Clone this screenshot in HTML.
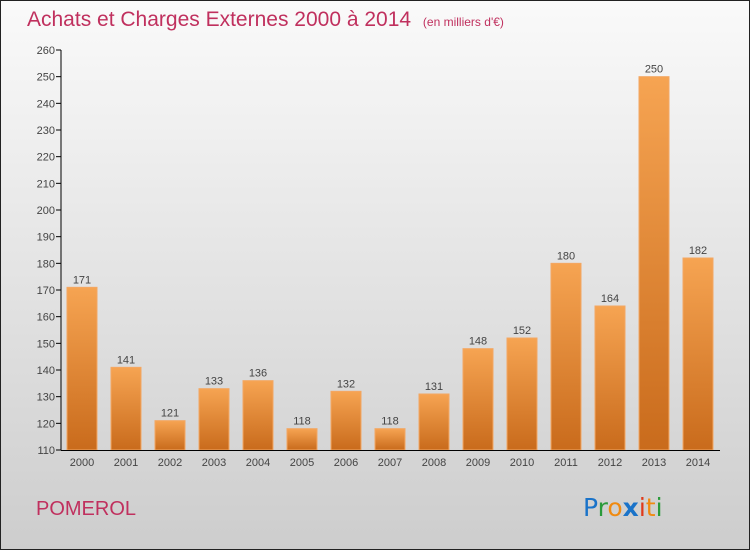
<!DOCTYPE html>
<html><head><meta charset="utf-8"><style>
body{margin:0}
#c{width:750px;height:550px;position:relative;overflow:hidden;font-family:"Liberation Sans",sans-serif}
</style></head><body>
<div id="c">
<svg id="s" width="750" height="550" xmlns="http://www.w3.org/2000/svg">
<defs>
<linearGradient id="bg" x1="0" y1="0" x2="0" y2="1"><stop offset="0" stop-color="#fafafa"/><stop offset="1" stop-color="#cdcdcd"/></linearGradient>
<linearGradient id="bar" x1="0" y1="0" x2="0" y2="1"><stop offset="0" stop-color="#f6a452"/><stop offset="1" stop-color="#c96b1c"/></linearGradient>
</defs>
<rect x="0.5" y="0.5" width="749" height="549" fill="url(#bg)" stroke="#222"/>
<text x="27" y="26" font-size="21" fill="#c0305e">Achats et Charges Externes 2000 à 2014 <tspan font-size="12" dx="6">(en milliers d'€)</tspan></text>
<text x="36" y="515" font-size="20" fill="#c0305e">POMEROL</text>
<g font-size="25" font-family="'DejaVu Sans',sans-serif">
<text x="583" y="516" fill="#1a73c9">P<tspan fill="#2a9a3a">r</tspan><tspan fill="#f08a10">o</tspan><tspan fill="#1a73c9" font-weight="bold">x</tspan><tspan fill="#e03a1a">i</tspan><tspan fill="#f08a10">t</tspan><tspan fill="#2a9a3a">i</tspan></text>
</g>
<g id="plot"></g>
</svg>
</div>
<script>
const years=["2000","2001","2002","2003","2004","2005","2006","2007","2008","2009","2010","2011","2012","2013","2014"];
const values=[171,141,121,133,136,118,132,118,131,148,152,180,164,250,182];
const ticks=[110,120,130,140,150,160,170,180,190,200,210,220,230,240,250,260];
const NS="http://www.w3.org/2000/svg";
const g=document.getElementById('plot');
const y=v=>450-(v-110)*400/150;
const x=i=>82+i*44;
function mk(t,a){const e=document.createElementNS(NS,t);for(const k in a)e.setAttribute(k,a[k]);g.appendChild(e);return e;}
ticks.forEach(t=>{
 const l=mk('line',{x1:56,x2:61,y1:y(t),y2:y(t),stroke:'#000'});
 
 
 const tx=mk('text',{x:55,y:y(t)+4,'font-size':11,'text-anchor':'end',fill:'#444'});tx.textContent=t;
 
 
});
years.forEach((yr,i)=>{
 const v=values[i];
 const r=mk('rect',{x:x(i)-15,y:y(v),width:30,height:450-y(v),fill:'url(#bar)',stroke:'#f3a763','stroke-width':1});
 
 
 const vl=mk('text',{x:x(i),y:y(v)-4,'font-size':11,'text-anchor':'middle',fill:'#444'});vl.textContent=v;
 
 
 const xl=mk('text',{x:x(i),y:466,'font-size':11,'text-anchor':'middle',fill:'#444'});xl.textContent=yr;
 
 
});
const ya=mk('line',{x1:61,x2:61,y1:50,y2:450.5,stroke:'#000'});


const xa=mk('line',{x1:61,x2:720,y1:450.5,y2:450.5,stroke:'#000'});


</script>
</body></html>
